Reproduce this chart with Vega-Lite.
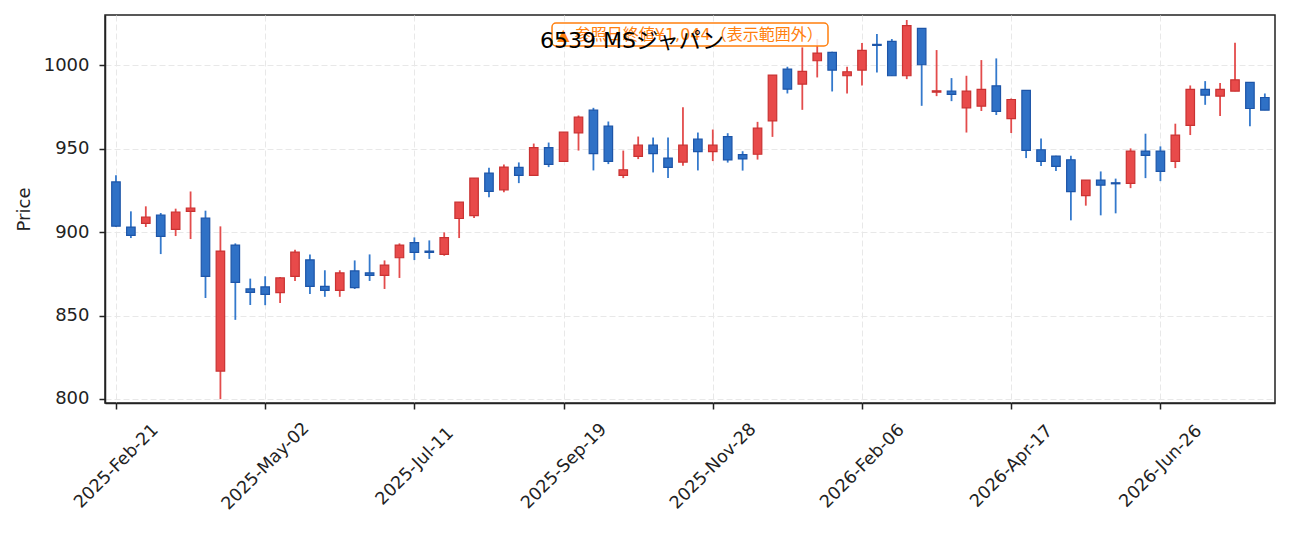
{
  "$schema": "https://vega.github.io/schema/vega-lite/v6.json",
  "width": 1170,
  "height": 388,
  "autosize": {"type": "none"},
  "padding": {"left": 105, "top": 15, "right": 16, "bottom": 130},
  "background": "white",
  "title": {
    "text": "6539 MSジャパン",
    "frame": "group",
    "anchor": "middle",
    "dx": -58,
    "dy": 23,
    "offset": -32,
    "baseline": "alphabetic",
    "fontSize": 22,
    "fontWeight": "normal",
    "font": "DejaVu Sans, Noto Sans CJK JP",
    "color": "#000000"
  },
  "config": {
    "view": {"stroke": "#222222", "strokeWidth": 1.5},
    "font": "DejaVu Sans, Noto Sans CJK JP",
    "axis": {
      "domainColor": "#222222",
      "domainWidth": 1.5,
      "tickColor": "#222222",
      "tickWidth": 1.5,
      "tickSize": 6,
      "labelFont": "DejaVu Sans",
      "labelFontSize": 18,
      "labelColor": "#222222",
      "titleFont": "DejaVu Sans",
      "titleFontSize": 18,
      "titleFontWeight": "normal",
      "titleColor": "#222222",
      "gridColor": "#e8e8e8",
      "gridDash": [6, 3],
      "gridWidth": 1
    }
  },
  "data": {
    "values": [
      {"date": "2025-02-21", "open": 930, "high": 934, "low": 903, "close": 903.5},
      {"date": "2025-02-28", "open": 903, "high": 912.4, "low": 896.4, "close": 898},
      {"date": "2025-03-07", "open": 905.2, "high": 915.4, "low": 903, "close": 909},
      {"date": "2025-03-14", "open": 910.2, "high": 911.4, "low": 886.8, "close": 897.4},
      {"date": "2025-03-21", "open": 901.6, "high": 914, "low": 897.6, "close": 912},
      {"date": "2025-03-28", "open": 912.4, "high": 924.3, "low": 895.8, "close": 914.4},
      {"date": "2025-04-04", "open": 908.4, "high": 912.8, "low": 860.5, "close": 873.5},
      {"date": "2025-04-11", "open": 816.7, "high": 903.4, "low": 799.9, "close": 888.6},
      {"date": "2025-04-18", "open": 892.2, "high": 893.2, "low": 847.4, "close": 869.9},
      {"date": "2025-04-25", "open": 865.9, "high": 872.1, "low": 856.3, "close": 863.9},
      {"date": "2025-05-02", "open": 867.1, "high": 873.5, "low": 856.2, "close": 862.7},
      {"date": "2025-05-09", "open": 863.7, "high": 873, "low": 857.5, "close": 872.5},
      {"date": "2025-05-16", "open": 873.5, "high": 889.4, "low": 870.7, "close": 888},
      {"date": "2025-05-23", "open": 883.3, "high": 886.6, "low": 862.9, "close": 867.5},
      {"date": "2025-05-30", "open": 867.5, "high": 877.1, "low": 861.2, "close": 865.1},
      {"date": "2025-06-06", "open": 865.1, "high": 877.1, "low": 861.2, "close": 875.5},
      {"date": "2025-06-13", "open": 876.7, "high": 883, "low": 865.9, "close": 866.7},
      {"date": "2025-06-20", "open": 875.5, "high": 886.6, "low": 870.7, "close": 874.1},
      {"date": "2025-06-27", "open": 874.1, "high": 883, "low": 865.9, "close": 880.2},
      {"date": "2025-07-04", "open": 884.6, "high": 893.2, "low": 872.5, "close": 892.2},
      {"date": "2025-07-11", "open": 893.6, "high": 896.8, "low": 883.2, "close": 887.8},
      {"date": "2025-07-18", "open": 888.6, "high": 895, "low": 883.9, "close": 887.8},
      {"date": "2025-07-25", "open": 886.6, "high": 899.8, "low": 885.8, "close": 896.6},
      {"date": "2025-08-01", "open": 908.1, "high": 917.9, "low": 896.4, "close": 917.9},
      {"date": "2025-08-08", "open": 909.8, "high": 932.3, "low": 908.4, "close": 932.3},
      {"date": "2025-08-15", "open": 935.3, "high": 938.5, "low": 920.9, "close": 924.3},
      {"date": "2025-08-22", "open": 925.3, "high": 940.5, "low": 923.9, "close": 938.9},
      {"date": "2025-08-29", "open": 938.7, "high": 941.7, "low": 929.3, "close": 933.9},
      {"date": "2025-09-05", "open": 933.9, "high": 953, "low": 933.9, "close": 950.6},
      {"date": "2025-09-12", "open": 950.6, "high": 953.6, "low": 938.9, "close": 940.5},
      {"date": "2025-09-19", "open": 942.3, "high": 959.8, "low": 942.3, "close": 959.8},
      {"date": "2025-09-26", "open": 959.4, "high": 969.8, "low": 948.8, "close": 968.8},
      {"date": "2025-10-03", "open": 973, "high": 974.4, "low": 936.9, "close": 947},
      {"date": "2025-10-10", "open": 963.4, "high": 966.2, "low": 940.7, "close": 942.3},
      {"date": "2025-10-17", "open": 933.9, "high": 948.8, "low": 932.3, "close": 937.3},
      {"date": "2025-10-24", "open": 945.3, "high": 957.2, "low": 943.7, "close": 952},
      {"date": "2025-10-31", "open": 952, "high": 956.6, "low": 935.7, "close": 947},
      {"date": "2025-11-07", "open": 944.3, "high": 956.6, "low": 932.3, "close": 938.7},
      {"date": "2025-11-14", "open": 941.9, "high": 974.8, "low": 939.7, "close": 952},
      {"date": "2025-11-21", "open": 955.6, "high": 959.6, "low": 936.9, "close": 948.2},
      {"date": "2025-11-28", "open": 948.2, "high": 961.4, "low": 942.5, "close": 952},
      {"date": "2025-12-05", "open": 957.2, "high": 959.2, "low": 941.6, "close": 943.2},
      {"date": "2025-12-12", "open": 946.4, "high": 948.4, "low": 936.8, "close": 943.8},
      {"date": "2025-12-19", "open": 946.6, "high": 966, "low": 943.4, "close": 962.2},
      {"date": "2025-12-26", "open": 966.6, "high": 994, "low": 957, "close": 994},
      {"date": "2026-01-02", "open": 997.6, "high": 999, "low": 983, "close": 985.6},
      {"date": "2026-01-09", "open": 988.6, "high": 1010.6, "low": 973.2, "close": 996.2},
      {"date": "2026-01-16", "open": 1002.6, "high": 1015.6, "low": 992.6, "close": 1007.2},
      {"date": "2026-01-23", "open": 1007.6, "high": 1008, "low": 984.2, "close": 997},
      {"date": "2026-01-30", "open": 993.6, "high": 999, "low": 983, "close": 996},
      {"date": "2026-02-06", "open": 997, "high": 1013.2, "low": 987.8, "close": 1008.8},
      {"date": "2026-02-13", "open": 1012.4, "high": 1018.6, "low": 995.6, "close": 1011.8},
      {"date": "2026-02-20", "open": 1014.2, "high": 1015.6, "low": 993.6, "close": 993.6},
      {"date": "2026-02-27", "open": 993.6, "high": 1027, "low": 991.6, "close": 1023.6},
      {"date": "2026-03-06", "open": 1022, "high": 1022.2, "low": 975.6, "close": 1000.2},
      {"date": "2026-03-13", "open": 983.8, "high": 1009, "low": 981.4, "close": 984.6},
      {"date": "2026-03-20", "open": 984.4, "high": 992.2, "low": 978.4, "close": 982.4},
      {"date": "2026-03-27", "open": 974.4, "high": 993.6, "low": 959.6, "close": 984.4},
      {"date": "2026-04-03", "open": 975.4, "high": 1003, "low": 972.5, "close": 985.4},
      {"date": "2026-04-10", "open": 987.6, "high": 1004, "low": 970.1, "close": 972.3},
      {"date": "2026-04-17", "open": 967.9, "high": 980, "low": 959.3, "close": 979.4},
      {"date": "2026-04-24", "open": 984.8, "high": 984.8, "low": 944.3, "close": 948.9},
      {"date": "2026-05-01", "open": 949.3, "high": 956.1, "low": 939.5, "close": 942.3},
      {"date": "2026-05-08", "open": 945.5, "high": 945.7, "low": 936.5, "close": 939.3},
      {"date": "2026-05-15", "open": 943.3, "high": 945.7, "low": 907, "close": 924.2},
      {"date": "2026-05-22", "open": 921.8, "high": 931.1, "low": 915.8, "close": 931.1},
      {"date": "2026-05-29", "open": 931.1, "high": 936.3, "low": 910, "close": 928.1},
      {"date": "2026-06-05", "open": 929.5, "high": 932, "low": 911.2, "close": 928.9},
      {"date": "2026-06-12", "open": 929.1, "high": 950.1, "low": 926.3, "close": 948.5},
      {"date": "2026-06-19", "open": 948.5, "high": 958.9, "low": 932.3, "close": 945.9},
      {"date": "2026-06-26", "open": 948.5, "high": 951.3, "low": 930.5, "close": 936.3},
      {"date": "2026-07-03", "open": 942.3, "high": 964.9, "low": 938.3, "close": 958.1},
      {"date": "2026-07-10", "open": 963.9, "high": 987.8, "low": 958.1, "close": 985.4},
      {"date": "2026-07-17", "open": 985.4, "high": 990.4, "low": 976.2, "close": 982},
      {"date": "2026-07-24", "open": 981.4, "high": 989.2, "low": 969.5, "close": 985.4},
      {"date": "2026-07-31", "open": 984.4, "high": 1013.4, "low": 984.4, "close": 991.2},
      {"date": "2026-08-07", "open": 989.6, "high": 989.8, "low": 963.3, "close": 974},
      {"date": "2026-08-14", "open": 980.6, "high": 983, "low": 973, "close": 973}
    ]
  },
  "layer": [
    {
      "mark": {"type": "rule", "strokeWidth": 1.8, "clip": true},
      "encoding": {
        "x": {
          "field": "date",
          "type": "temporal",
          "scale": {
            "type": "utc",
            "domain": [
              {"year": 2025, "month": 2, "date": 18, "hours": 4, "minutes": 48, "utc": true},
              {"year": 2026, "month": 8, "date": 16, "hours": 10, "utc": true}
            ]
          },
          "axis": {
            "title": null,
            "values": [
              {"year": 2025, "month": 2, "date": 21, "utc": true},
              {"year": 2025, "month": 5, "date": 2, "utc": true},
              {"year": 2025, "month": 7, "date": 11, "utc": true},
              {"year": 2025, "month": 9, "date": 19, "utc": true},
              {"year": 2025, "month": 11, "date": 28, "utc": true},
              {"year": 2026, "month": 2, "date": 6, "utc": true},
              {"year": 2026, "month": 4, "date": 17, "utc": true},
              {"year": 2026, "month": 6, "date": 26, "utc": true}
            ],
            "labelExpr": "utcFormat(datum.value, '%Y-%b-%d')",
            "labelFontSize": 17.5,
            "labelAngle": -45,
            "labelAlign": "center",
            "labelBaseline": "middle",
            "labelPadding": 57,
            "labelOverlap": false,
            "labelFlush": false
          }
        },
        "y": {
          "field": "low",
          "type": "quantitative",
          "scale": {"domain": [797.6, 1030], "nice": false, "zero": false},
          "axis": {
            "title": "Price",
            "values": [800, 850, 900, 950, 1000],
            "format": "d",
            "labelPadding": 10,
            "titlePadding": 10
          }
        },
        "y2": {"field": "high"},
        "color": {
          "condition": {"test": "datum.close >= datum.open", "value": "#e34c4c"},
          "value": "#3479cc"
        }
      }
    },
    {
      "mark": {"type": "bar", "size": 8.5, "strokeWidth": 1.2, "clip": true},
      "encoding": {
        "x": {"field": "date", "type": "temporal"},
        "y": {"field": "open", "type": "quantitative"},
        "y2": {"field": "close"},
        "fill": {
          "condition": {"test": "datum.close >= datum.open", "value": "#e84a4a"},
          "value": "#2f71c6"
        },
        "stroke": {
          "condition": {"test": "datum.close >= datum.open", "value": "#c93232"},
          "value": "#1d55a8"
        }
      }
    },
    {
      "data": {"values": [{}]},
      "mark": {
        "type": "rect",
        "x": {"expr": "width/2 - 138"},
        "x2": {"expr": "width/2 + 138"},
        "y": 8,
        "y2": 31,
        "cornerRadius": 4,
        "fill": "white",
        "fillOpacity": 0.85,
        "stroke": "#ff7f0e",
        "strokeWidth": 1.5
      },
      "encoding": {}
    },
    {
      "data": {"values": [{}]},
      "mark": {
        "type": "text",
        "x": {"expr": "width/2"},
        "y": 19.5,
        "text": "▲ 参照日終値¥1,044（表示範囲外）",
        "font": "DejaVu Sans, Noto Sans CJK JP",
        "fontSize": 16,
        "color": "#ff7f0e",
        "align": "center",
        "baseline": "middle"
      },
      "encoding": {}
    }
  ]
}
